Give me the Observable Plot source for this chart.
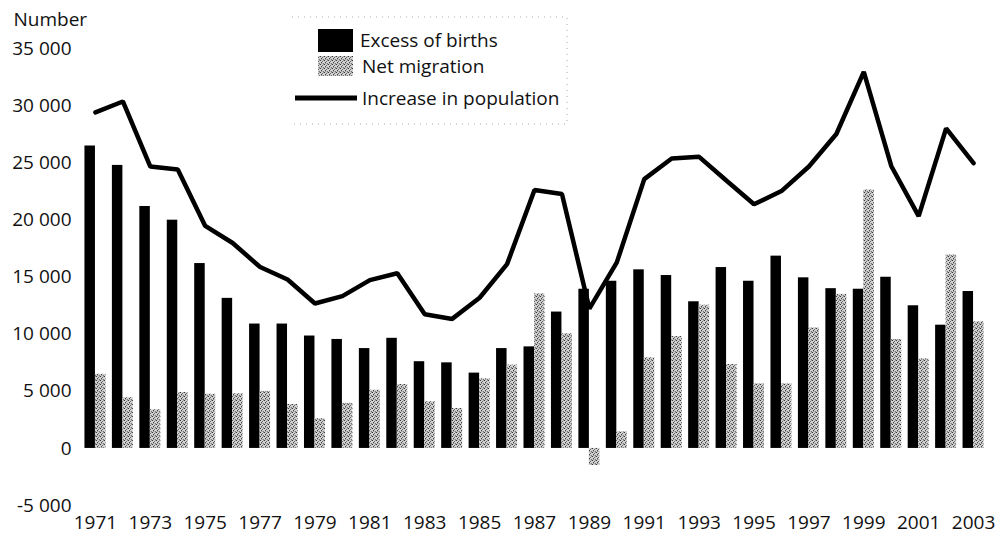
<!DOCTYPE html>
<html>
<head>
<meta charset="utf-8">
<script src="https://cdn.jsdelivr.net/npm/d3@7"></script>
<script src="https://cdn.jsdelivr.net/npm/@observablehq/plot@0.6"></script>
<style>
  html, body { margin: 0; padding: 0; background: #fff; }
  #chart { position: relative; width: 1002px; height: 536px; }
</style>
</head>
<body>
<div id="chart"></div>
<script>
const years = d3.range(1971, 2004);
const excessOfBirths = [26500, 24800, 21200, 20000, 16200, 13150, 10900, 10900, 9850, 9550, 8750,
  9650, 7600, 7500, 6600, 8750, 8900, 11950, 13950, 14650, 15650, 15150,
  12850, 15850, 14650, 16850, 14950, 14000, 13950, 15000, 12500, 10800, 13750];
const netMigration = [6500, 4450, 3400, 4900, 4750, 4800, 5000, 3850, 2600, 3950, 5100,
  5600, 4100, 3500, 6100, 7300, 13550, 10050, -1500, 1450, 7950, 9800,
  12550, 7350, 5650, 5650, 10550, 13500, 22650, 9550, 7850, 16950, 11100];
const populationIncrease = [29450, 30400, 24700, 24450, 19500, 18000, 15900, 14800, 12700, 13350, 14750,
  15350, 11750, 11350, 13200, 16150, 22650, 22300, 12250, 16300, 23600, 25400,
  25550, 23450, 21400, 22550, 24700, 27550, 33000, 24750, 20350, 28050, 25000];
const xTickLabels = [1971, 1973, 1975, 1977, 1979, 1981, 1983, 1985, 1987, 1989, 1991, 1993, 1995, 1997, 1999, 2001, 2003];
const yTicks = [-5000, 0, 5000, 10000, 15000, 20000, 25000, 30000, 35000];
const seriesNames = ["Excess of births", "Net migration", "Increase in population"];

const rows = years.map((year, i) => ({
  year,
  births: excessOfBirths[i],
  migration: netMigration[i],
  population: populationIncrease[i]
}));

const fmt = d => d3.format(",")(d).replace(/,/g, " ").replace("\u2212", "-");
const half = 10.5;

const plot = Plot.plot({
  width: 1002,
  height: 536,
  marginLeft: 78,
  marginRight: 12,
  marginTop: 48.5,
  marginBottom: 31,
  style: { fontFamily: "'Open Sans', sans-serif", fontSize: "19px", color: "#111", background: "#fff" },
  x: { type: "band", domain: years, paddingInner: 0.235, paddingOuter: 0.235, round: false },
  y: { domain: [-5000, 35000] },
  marks: [
    Plot.barY(rows, { x: "year", y: "births", fill: "#000", insetRight: half }),
    Plot.barY(rows, { x: "year", y: "migration", fill: "url(#stipple)", insetLeft: half }),
    Plot.line(rows, { x: "year", y: "population", stroke: "#000", strokeWidth: 4.5, strokeLinejoin: "miter" }),
    Plot.axisX({ ticks: xTickLabels, tickSize: 0, tickPadding: 10, label: null, tickFormat: d => String(d) }),
    Plot.axisY({ ticks: yTicks, tickSize: 0, tickPadding: 7, label: null, tickFormat: fmt }),
    Plot.text(["Number"], { text: d => d, frameAnchor: "top-left", dx: -65, dy: -29, textAnchor: "start", lineAnchor: "middle" })
  ]
});

const svg = d3.select(plot);
const defs = svg.insert("defs", ":first-child");
const pat = defs.append("pattern").attr("id", "stipple").attr("patternUnits", "userSpaceOnUse")
  .attr("width", 4).attr("height", 4);
pat.append("rect").attr("width", 4).attr("height", 4).attr("fill", "#d2d2d2");
[[0,0,"#333"],[2,1,"#666"],[1,2,"#444"],[3,3,"#777"],[3,0,"#999"],[1,3,"#999"],[2,3,"#bbb"]].forEach(([x,y,c]) =>
  pat.append("rect").attr("x", x).attr("y", y).attr("width", 1).attr("height", 1).attr("fill", c));

// Legend
const lg = svg.append("g").attr("font-family", "'Open Sans', sans-serif").attr("font-size", 19)
  .attr("fill", "#111").attr("text-anchor", "start");
lg.append("path").attr("d", "M292,17H567V124H292").attr("fill", "none").attr("stroke", "#aaa")
  .attr("stroke-width", 1).attr("stroke-dasharray", "1 5");
lg.append("rect").attr("x", 318).attr("y", 29).attr("width", 35).attr("height", 23).attr("fill", "#000");
lg.append("rect").attr("x", 318).attr("y", 56).attr("width", 35).attr("height", 20).attr("fill", "url(#stipple)");
lg.append("line").attr("x1", 295).attr("x2", 357).attr("y1", 98).attr("y2", 98).attr("stroke", "#000").attr("stroke-width", 5);
lg.append("text").attr("x", 360).attr("y", 40).attr("dy", "0.35em").text(seriesNames[0]);
lg.append("text").attr("x", 362).attr("y", 66).attr("dy", "0.35em").text(seriesNames[1]);
lg.append("text").attr("x", 362).attr("y", 98).attr("dy", "0.35em").text(seriesNames[2]);

document.getElementById("chart").appendChild(plot);
</script>
</body>
</html>
